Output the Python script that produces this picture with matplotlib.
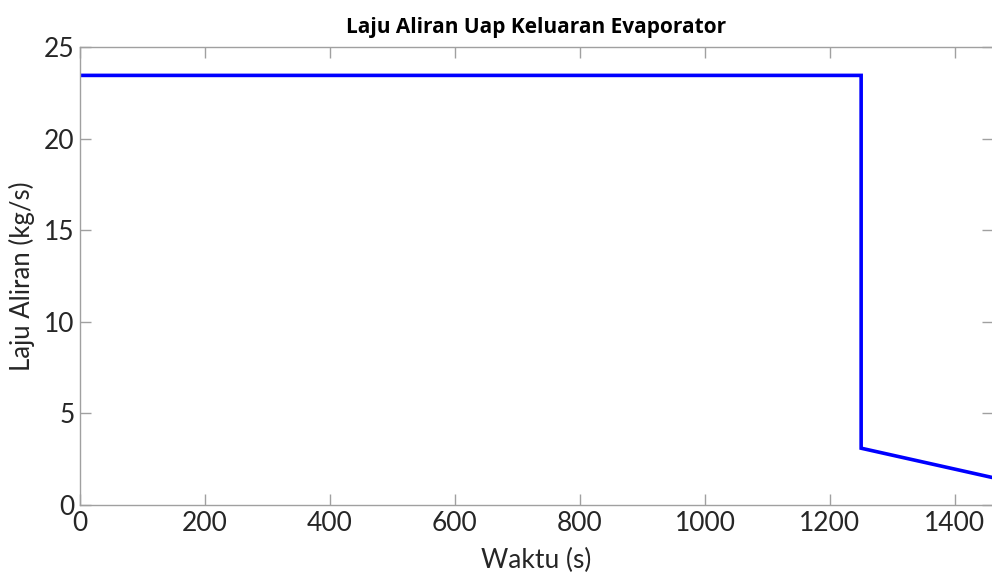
import matplotlib
matplotlib.use("Agg")
import matplotlib.pyplot as plt

# Steam flow rate out of the evaporator
waktu = [0, 1250, 1250, 1460]
laju = [23.45, 23.45, 3.1, 1.5]

xticks = [0, 200, 400, 600, 800, 1000, 1200, 1400]
yticks = [0, 5, 10, 15, 20, 25]

plt.rcParams['font.family'] = ['Lato', 'DejaVu Sans']

fig = plt.figure(figsize=(9.92, 5.74), dpi=100)
ax = fig.add_axes([80 / 992, 1 - 505 / 574, 913 / 992, 458 / 574])

ax.plot(waktu, laju, color='#0000ff', linewidth=2.6, solid_joinstyle='miter')

ax.set_xlim(0, 1461)
ax.set_ylim(0, 25)
ax.set_xticks(xticks)
ax.set_yticks(yticks)

axis_col = '#a0a0a0'
text_col = '#262626'
for s in ax.spines.values():
    s.set_color(axis_col)
    s.set_linewidth(1.0)
ax.tick_params(direction='in', top=True, right=True, length=8, width=1.0,
               color=axis_col, labelsize=19, pad=4)
for lbl in ax.get_xticklabels() + ax.get_yticklabels():
    lbl.set_color(text_col)

ax.set_xlabel('Waktu (s)', fontsize=19, color=text_col, labelpad=9)
ax.set_ylabel('Laju Aliran (kg/s)', fontsize=18.5, color=text_col, labelpad=6)
ax.set_title('Laju Aliran Uap Keluaran Evaporator', fontsize=15, fontweight='bold',
             family=['Open Sans', 'DejaVu Sans'], color='black', pad=10)

fig.savefig('out.png', dpi=100)
